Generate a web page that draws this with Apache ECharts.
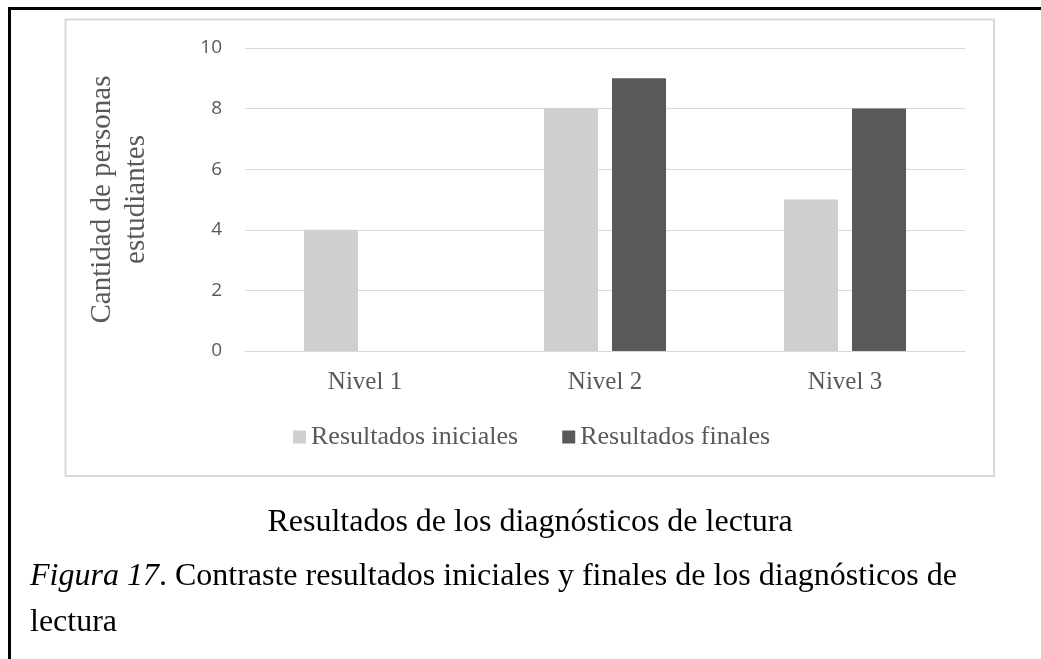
<!DOCTYPE html>
<html>
<head>
<meta charset="utf-8">
<script src="https://cdn.jsdelivr.net/npm/echarts@6/dist/echarts.min.js"></script>
<style>
html,body{margin:0;padding:0;background:#fff;}
#chart{width:1041px;height:659px;}
</style>
</head>
<body>
<div id="chart"></div>
<script>
// ---- data ----
const categories = ['Nivel 1', 'Nivel 2', 'Nivel 3'];
const seriesNames = ['Resultados iniciales', 'Resultados finales'];
const initialValues = [4, 8, 5];
const finalValues = [0, 9, 8];
const yTicks = [0, 2, 4, 6, 8, 10];
const yAxisTitle = 'Cantidad de personas\nestudiantes';
const chartTitle = 'Resultados de los diagnósticos de lectura';
const captionItalic = 'Figura 17';
const captionRest = '. Contraste resultados iniciales y finales de los diagnósticos de';
const captionLine2 = 'lectura';

const serif = '"Liberation Serif", "Times New Roman", serif';
const sans = '"Open Sans", "Liberation Sans", sans-serif';
const gray = '#595959';

const chart = echarts.init(document.getElementById('chart'));
chart.setOption({
  animation: false,
  backgroundColor: '#ffffff',
  grid: { left: 245, right: 76, top: 48, bottom: 308, containLabel: false },
  legend: {
    data: seriesNames,
    left: 293,
    top: 424,
    padding: 0,
    itemWidth: 13,
    itemHeight: 13,
    itemGap: 44,
    icon: 'rect',
    textStyle: { fontFamily: serif, fontSize: 26, color: gray }
  },
  xAxis: {
    type: 'category',
    data: categories,
    axisTick: { show: false },
    axisLine: { lineStyle: { color: '#d9d9d9', width: 1 } },
    axisLabel: { fontFamily: serif, fontSize: 25, color: gray, margin: 19 }
  },
  yAxis: {
    type: 'value',
    min: yTicks[0],
    max: yTicks[yTicks.length - 1],
    interval: yTicks[1] - yTicks[0],
    name: yAxisTitle,
    nameLocation: 'middle',
    nameGap: 92,
    nameTextStyle: { fontFamily: serif, fontSize: 29, color: gray, lineHeight: 34 },
    axisLine: { show: false },
    axisTick: { show: false },
    axisLabel: { fontFamily: sans, fontSize: 19, color: gray, margin: 23 },
    splitLine: { lineStyle: { color: '#d9d9d9', width: 1 } }
  },
  series: [
    {
      name: seriesNames[0], type: 'bar', data: initialValues,
      barWidth: 54, barGap: '26%',
      itemStyle: { color: '#d0cece' }
    },
    {
      name: seriesNames[1], type: 'bar', data: finalValues,
      barWidth: 54, barGap: '26%',
      itemStyle: { color: '#595959' }
    }
  ],
  graphic: [
    { type: 'rect', silent: true, z: -1,
      shape: { x: 65.5, y: 19.5, width: 928.5, height: 456.5 },
      style: { fill: 'none', stroke: '#d9d9d9', lineWidth: 2 } },
    { type: 'line', silent: true,
      shape: { x1: 9.5, y1: 8, x2: 9.5, y2: 659 },
      style: { stroke: '#000', lineWidth: 3 } },
    { type: 'line', silent: true,
      shape: { x1: 8, y1: 8.5, x2: 1041, y2: 8.5 },
      style: { stroke: '#000', lineWidth: 3 } },
    { type: 'text', silent: true,
      style: { x: 530, y: 523, text: chartTitle, fill: '#000', align: 'center', verticalAlign: 'middle',
        font: '32px ' + serif } },
    { type: 'text', silent: true,
      style: { x: 30, y: 577, text: '{i|' + captionItalic + '}{n|' + captionRest + '}', verticalAlign: 'middle',
        rich: {
          i: { fontFamily: serif, fontSize: 32, fontStyle: 'italic', fill: '#000' },
          n: { fontFamily: serif, fontSize: 32, fill: '#000' }
        } } },
    { type: 'text', silent: true,
      style: { x: 30, y: 623, text: captionLine2, fill: '#000', verticalAlign: 'middle',
        font: '32px ' + serif } }
  ]
});
</script>
</body>
</html>
